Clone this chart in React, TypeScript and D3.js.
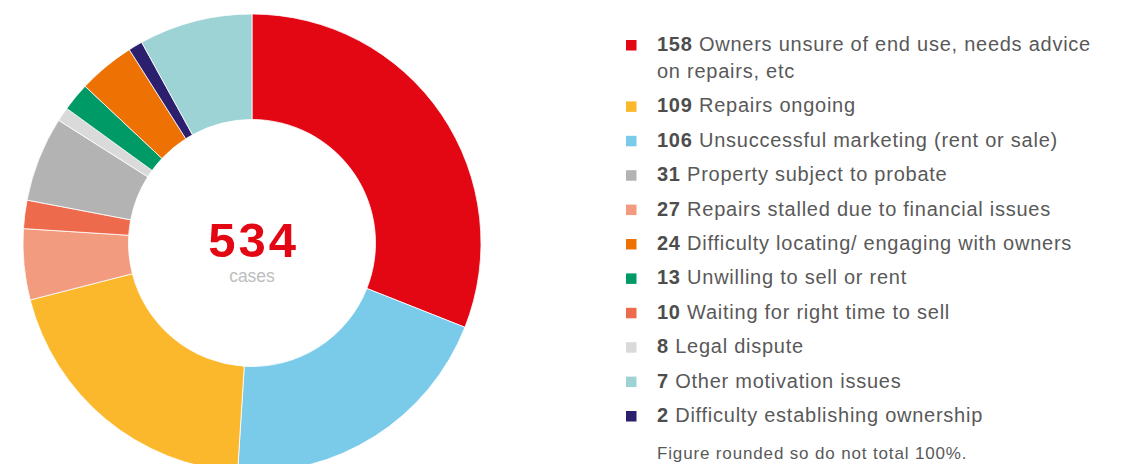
import React from "react";
import * as d3 from "d3";

// legend (order as listed on the right)
const legendCounts = [158, 109, 106, 31, 27, 24, 13, 10, 8, 7, 2];
const legendLabels = [
  "Owners unsure of end use, needs advice on repairs, etc",
  "Repairs ongoing",
  "Unsuccessful marketing (rent or sale)",
  "Property subject to probate",
  "Repairs stalled due to financial issues",
  "Difficulty locating/ engaging with owners",
  "Unwilling to sell or rent",
  "Waiting for right time to sell",
  "Legal dispute",
  "Other motivation issues",
  "Difficulty establishing ownership",
];
const legendColors = [
  "#e30613", "#fbb82d", "#7acbea", "#b3b3b3", "#f39b7e", "#ee7203",
  "#009a66", "#ee6a4c", "#dadada", "#9dd3d4", "#2b1f6e",
];

// ring (clockwise from 12 o'clock), rounded percentages as drawn
const ringOrder = [0, 2, 1, 4, 7, 3, 8, 6, 5, 10, 9];
const ringShares = [31, 20, 20, 5, 2, 6, 1, 2, 4, 1, 8];

const totalCases = 534;
const note = "Figure rounded so do not total 100%.";

const W = 1121;
const H = 464;
const cx = 252;
const cy = 243;
const rOuter = 229;
const rInner = 123.5;

const font = "'Liberation Sans', Arial, sans-serif";
const fs = 20;
const ls = 0.75;

function measure(text: string, size: number, bold = false) {
  const ctx = document.createElement("canvas").getContext("2d");
  if (!ctx) return text.length * size * 0.5;
  ctx.font = `${bold ? "bold " : ""}${size}px 'Liberation Sans', Arial, sans-serif`;
  return ctx.measureText(text).width + ls * text.length;
}

function wrap(text: string, maxW: number, firstOffset: number) {
  const words = text.split(" ");
  const lines: string[] = [];
  let cur = "";
  words.forEach((w) => {
    const test = cur ? cur + " " + w : w;
    const avail = lines.length === 0 ? maxW - firstOffset : maxW;
    if (measure(test, fs) > avail && cur) {
      lines.push(cur);
      cur = w;
    } else cur = test;
  });
  if (cur) lines.push(cur);
  return lines;
}

export default function App() {
  const pie = d3.pie<number>().sort(null).value((d) => d);
  const arcs = pie(ringShares);
  const arc = d3.arc<d3.PieArcDatum<number>>().innerRadius(rInner).outerRadius(rOuter);

  const legX = 626;
  const textX = 657;
  let y = 51;
  const rows = legendLabels.map((label, i) => {
    const numStr = String(legendCounts[i]);
    const numW = measure(numStr + " ", fs, true);
    const lines = wrap(label, 445, numW);
    const row = { i, y, lines, numStr };
    y += 27 * (lines.length - 1) + 34.4;
    return row;
  });

  return (
    <svg width={W} height={H} style={{ position: "absolute", left: 0, top: 0 }}
      fontFamily={font}>
      <g transform={`translate(${cx},${cy})`}>
        {arcs.map((a, k) => (
          <path key={k} d={arc(a) || ""} fill={legendColors[ringOrder[k]]}
            stroke="#fff" strokeWidth={0.8} />
        ))}
        <text x={1.5} y={13.5} textAnchor="middle" fontSize={49} fontWeight="bold"
          letterSpacing={3} fill="#e30613">
          {totalCases}
        </text>
        <text y={38.5} textAnchor="middle" fontSize={17.5} fill="#bdbdbd">cases</text>
      </g>
      {rows.map((r) => (
        <g key={r.i}>
          <rect x={legX} y={r.y - 11} width={10.5} height={10.5} fill={legendColors[r.i]} />
          {r.lines.map((ln, j) => (
            <text key={j} x={textX} y={r.y + j * 27} fontSize={fs} letterSpacing={ls}
              fill="#595959">
              {j === 0 && <tspan fontWeight="bold" fill="#4d4d4d">{r.numStr} </tspan>}
              {ln}
            </text>
          ))}
        </g>
      ))}
      <text x={textX} y={459} fontSize={17} letterSpacing={0.85} fill="#595959">{note}</text>
    </svg>
  );
}
